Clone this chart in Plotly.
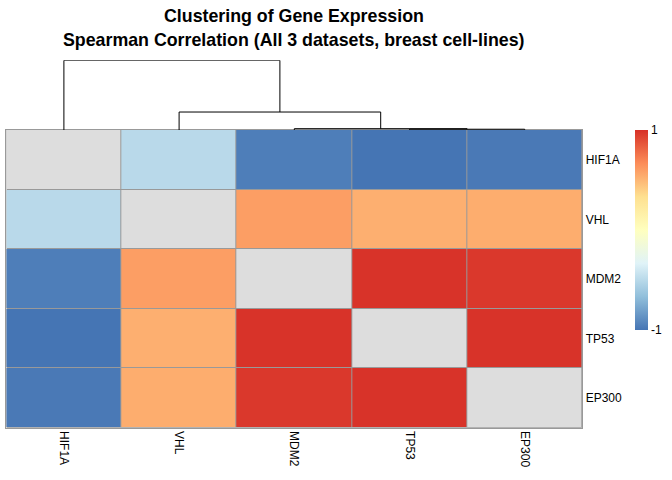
import plotly.graph_objects as go

# Genes in clustered order
genes = ["HIF1A", "VHL", "MDM2", "TP53", "EP300"]

# Spearman correlations (diagonal left empty, drawn as NA)
corr_hif1a = [None, -0.50, -0.96, -1.00, -0.98]
corr_vhl = [-0.50, None, 0.60, 0.53, 0.54]
corr_mdm2 = [-0.96, 0.60, None, 0.99, 0.97]
corr_tp53 = [-1.00, 0.53, 0.99, None, 0.99]
corr_ep300 = [-0.98, 0.54, 0.97, 0.99, None]

# Column dendrogram merges: (left, right, relative height)
merges = [
    ("TP53", "EP300", 0.011),
    ("MDM2", 0, 0.019),
    ("VHL", 1, 0.258),
    ("HIF1A", 2, 1.0),
]

z = [corr_hif1a, corr_vhl, corr_mdm2, corr_tp53, corr_ep300]
n = len(genes)
idx = list(range(n))

# RdYlBu (7) reversed, pheatmap default
rdylbu = ["#4575B4", "#91BFDB", "#E0F3F8", "#FFFFBF", "#FEE090", "#FC8D59", "#D73027"]
colorscale = [[i / (len(rdylbu) - 1), c] for i, c in enumerate(rdylbu)]

na_z = [[1 if v is None else None for v in row] for row in z]
base_z = [[0] * n for _ in range(n)]

fig = go.Figure()

# grey cell borders underneath
fig.add_trace(go.Heatmap(x=idx, y=idx, z=base_z, showscale=False, hoverinfo="skip",
                         colorscale=[[0, "#999999"], [1, "#999999"]]))
# NA diagonal
fig.add_trace(go.Heatmap(x=idx, y=idx, z=na_z, showscale=False, xgap=1, ygap=1,
                         colorscale=[[0, "#DDDDDD"], [1, "#DDDDDD"]], hoverinfo="skip"))
# correlations
fig.add_trace(go.Heatmap(
    x=idx, y=idx, z=z, zmin=-1, zmax=1, colorscale=colorscale,
    xgap=1, ygap=1,
    colorbar=dict(
        thickness=13, len=200, lenmode="pixels",
        x=635 / 672, xanchor="left", y=1 - 130 / 480, yanchor="top",
        xpad=0, ypad=0, outlinewidth=0,
        tickvals=[-1, 1], ticktext=["-1", "1"], ticks="",
        tickfont=dict(size=12, color="#000000"),
    ),
))

# dendrogram lines
pos = {g: (i, 0.0) for i, g in enumerate(genes)}
dx, dy = [], []
for k, (a, b, h) in enumerate(merges):
    xa, ha = pos[a]
    xb, hb = pos[b]
    dx += [xa, xa, xb, xb, None]
    dy += [ha, h, h, hb, None]
    pos[k] = ((xa + xb) / 2, h)

fig.add_trace(go.Scatter(x=dx, y=dy, mode="lines", xaxis="x2", yaxis="y2",
                         line=dict(color="#000000", width=1), hoverinfo="skip",
                         showlegend=False, cliponaxis=False))

x_dom = [6.3 / 672, 582.3 / 672]
fig.update_layout(
    width=672, height=480,
    margin=dict(l=0, r=0, t=0, b=0, autoexpand=False),
    paper_bgcolor="white", plot_bgcolor="white",
    font=dict(family="Liberation Sans, Arial, sans-serif", color="#000000"),
    xaxis=dict(domain=x_dom, range=[-0.5, n - 0.5], tickvals=idx, ticktext=genes,
               tickangle=90, ticks="", showgrid=False, zeroline=False,
               showline=True, mirror=True, linecolor="#999999", linewidth=1,
               tickfont=dict(size=12), automargin=False),
    yaxis=dict(domain=[1 - 427.7 / 480, 1 - 130 / 480], range=[n - 0.5, -0.5],
               tickvals=idx, ticktext=genes, side="right", ticks="",
               showgrid=False, zeroline=False,
               showline=True, mirror=True, linecolor="#999999", linewidth=1,
               tickfont=dict(size=12), automargin=False),
    xaxis2=dict(domain=x_dom, range=[-0.5, n - 0.5], anchor="y2", visible=False),
    yaxis2=dict(domain=[1 - 130 / 480, 1 - 60.3 / 480], range=[0, 1], anchor="x2",
                visible=False),
    annotations=[
        dict(text="<b>Clustering of Gene Expression</b>", x=294.3 / 672, y=1 - 16 / 480,
             xref="paper", yref="paper", xanchor="center", yanchor="middle",
             showarrow=False, font=dict(size=17.8)),
        dict(text="<b>Spearman Correlation (All 3 datasets, breast cell-lines)</b>",
             x=294.3 / 672, y=1 - 40.5 / 480, xref="paper", yref="paper",
             xanchor="center", yanchor="middle", showarrow=False, font=dict(size=17.8)),
    ],
)

# page body has an 8px default margin; drop it so the figure sits at 0,0
fig.write_html("out.html", config={"displayModeBar": False},
               post_script="document.body.style.margin='0';")
